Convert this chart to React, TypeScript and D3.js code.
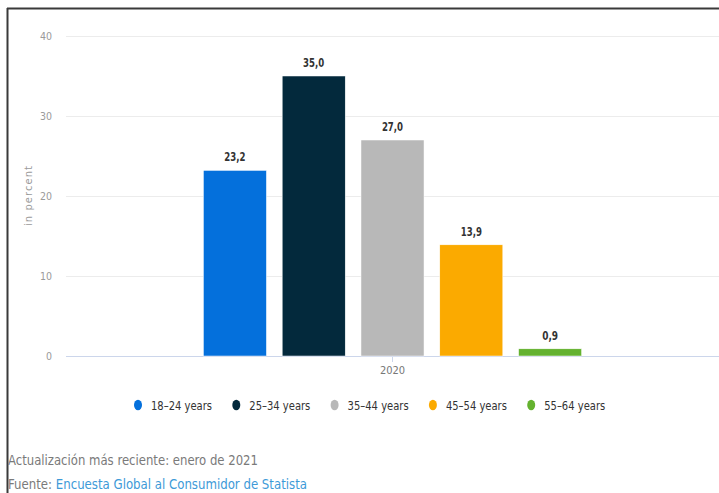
import React from "react";
import * as d3 from "d3";

const categories = ["2020"];
const seriesNames = ["18-24 years", "25-34 years", "35-44 years", "45-54 years", "55-64 years"];
const seriesValues = [23.2, 35.0, 27.0, 13.9, 0.9];
const seriesColors = ["#0470dc", "#03293c", "#b8b8b8", "#fbaa00", "#64b22f"];
const yTicks = [0, 10, 20, 30, 40];

const W = 719;
const H = 493;
const FONT = "'DejaVu Sans Condensed', 'Liberation Sans Narrow', 'Open Sans', sans-serif";

export default function App() {
  const plotLeft = 66;
  const plotRight = 719;
  const plotTop = 36;
  const plotBottom = 356;

  const y = d3.scaleLinear().domain([0, 40]).range([plotBottom, plotTop]);
  const x0 = d3.scaleBand<string>().domain(categories).range([plotLeft, plotRight]).padding(0.2474);
  const x1 = d3
    .scaleBand<string>()
    .domain(seriesNames)
    .range([0, x0.bandwidth()])
    .paddingInner(0.2)
    .paddingOuter(0.1);

  const fmt = (v: number) => v.toFixed(1).replace(".", ",");

  const legendStart = 138;
  const legendStep = 98.3;

  return (
    <div style={{ position: "absolute", left: 0, top: 0 }}>
      <svg width={W} height={H} style={{ display: "block", background: "#fff" }} fontFamily={FONT}>
        {/* frame */}
        <line x1={7} x2={W} y1={8.5} y2={8.5} stroke="#3a3a3a" strokeWidth={2} />
        <line x1={7.5} x2={7.5} y1={8} y2={H} stroke="#3a3a3a" strokeWidth={2} />

        {/* gridlines */}
        {yTicks.map((t) => (
          <g key={t}>
            <line
              x1={plotLeft}
              x2={plotRight}
              y1={y(t) + 0.5}
              y2={y(t) + 0.5}
              stroke={t === 0 ? "#ccd6eb" : "#ececec"}
              strokeWidth={1}
            />
            <text x={52} y={y(t) + 3.5} textAnchor="end" fontSize={10.5} fill="#9a9a9a">
              {t}
            </text>
          </g>
        ))}
        <text
          transform={`translate(32,${(plotTop + plotBottom) / 2}) rotate(-90)`}
          textAnchor="middle"
          fontSize={11}
          fill="#9a9a9a"
          textLength={60}
          lengthAdjust="spacing"
        >
          in percent
        </text>

        {/* x axis tick and label */}
        {categories.map((c) => {
          const cx = (x0(c) ?? 0) + x0.bandwidth() / 2;
          return (
            <g key={c}>
              <line x1={cx} x2={cx} y1={plotBottom} y2={plotBottom + 6} stroke="#ccd6eb" />
              <text x={cx} y={plotBottom + 18} textAnchor="middle" fontSize={11} fill="#777">
                {c}
              </text>
            </g>
          );
        })}

        {/* bars */}
        {categories.map((c) =>
          seriesNames.map((s, i) => {
            const bx = (x0(c) ?? 0) + (x1(s) ?? 0);
            const by = y(seriesValues[i]);
            return (
              <g key={s}>
                <rect
                  x={bx}
                  y={by}
                  width={x1.bandwidth()}
                  height={plotBottom - by}
                  fill={seriesColors[i]}
                  stroke="#ffffff"
                  strokeWidth={0.5}
                />
                <text
                  x={bx + x1.bandwidth() / 2}
                  y={by - 9}
                  textAnchor="middle"
                  fontSize={11.5}
                  fontWeight="bold"
                  fill="#333"
                  textLength={fmt(seriesValues[i]).length * 5.3}
                  lengthAdjust="spacingAndGlyphs"
                >
                  {fmt(seriesValues[i])}
                </text>
              </g>
            );
          })
        )}

        {/* legend */}
        {seriesNames.map((s, i) => {
          const lx = legendStart + i * legendStep;
          return (
            <g key={s}>
              <ellipse cx={lx} cy={405} rx={4} ry={5.2} fill={seriesColors[i]} />
              <text
                x={lx + 13}
                y={409.5}
                fontSize={12.5}
                fill="#333"
                textLength={61}
                lengthAdjust="spacingAndGlyphs"
              >
                {s.replace("-", "–")}
              </text>
            </g>
          );
        })}

        {/* footer */}
        <text x={8} y={465} fontSize={14} fill="#7a7a7a" textLength={250} lengthAdjust="spacingAndGlyphs">
          Actualización más reciente: enero de 2021
        </text>
        <text x={8} y={489} fontSize={14} fill="#7a7a7a" textLength={299} lengthAdjust="spacingAndGlyphs">
          Fuente: <tspan fill="#3d9ad8">Encuesta Global al Consumidor de Statista</tspan>
        </text>
      </svg>
    </div>
  );
}
